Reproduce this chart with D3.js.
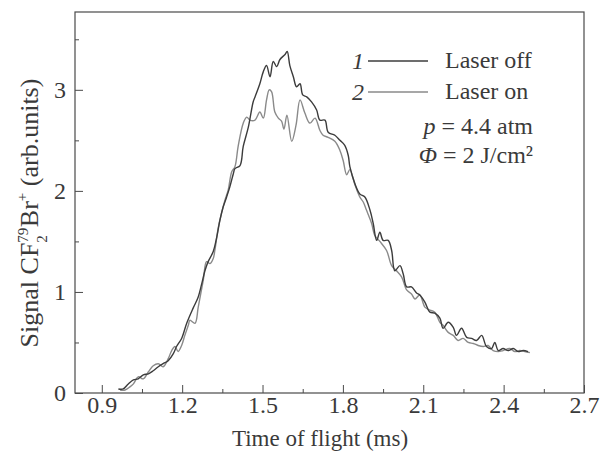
<!DOCTYPE html>
<html>
<head>
<meta charset="utf-8">
<script src="https://cdn.jsdelivr.net/npm/d3@7"></script>
<style>
    body { margin: 0; background: #fff; }
    svg { display: block; font-family: "Liberation Serif", "DejaVu Serif", serif; }
    text { fill: #3a3a3a; }
</style>
</head>
<body>
<svg></svg>
<script>

// curve 1 - laser off (time in ms, signal in arb. units)
const timeOff = [0.962, 0.980, 0.999, 1.018, 1.036, 1.055, 1.074, 1.092, 1.111, 1.129,
    1.148, 1.167, 1.179, 1.198, 1.217, 1.241, 1.260, 1.273, 1.285, 1.297,
    1.316, 1.329, 1.341, 1.353, 1.366, 1.378, 1.391, 1.397, 1.416, 1.428,
    1.447, 1.465, 1.472, 1.490, 1.503, 1.515, 1.528, 1.540, 1.553, 1.565,
    1.584, 1.592, 1.602, 1.615, 1.627, 1.640, 1.650, 1.665, 1.683, 1.702,
    1.714, 1.733, 1.745, 1.770, 1.789, 1.807, 1.820, 1.826, 1.845, 1.863,
    1.882, 1.901, 1.913, 1.926, 1.938, 1.950, 1.969, 1.982, 1.994, 2.013,
    2.025, 2.038, 2.056, 2.075, 2.087, 2.106, 2.125, 2.143, 2.162, 2.174,
    2.193, 2.212, 2.224, 2.243, 2.262, 2.280, 2.299, 2.318, 2.336, 2.355,
    2.367, 2.380, 2.398, 2.417, 2.436, 2.454, 2.473, 2.491]
const signalOff = [0.04, 0.04, 0.09, 0.13, 0.14, 0.18, 0.19, 0.22, 0.26, 0.29,
    0.32, 0.39, 0.46, 0.54, 0.69, 0.84, 0.95, 1.08, 1.21, 1.30,
    1.40, 1.54, 1.71, 1.84, 1.94, 2.04, 2.17, 2.22, 2.25, 2.44,
    2.63, 2.88, 2.93, 3.06, 3.18, 3.24, 3.13, 3.28, 3.23, 3.30,
    3.35, 3.38, 3.24, 3.13, 3.03, 3.06, 2.95, 2.93, 2.88, 2.80,
    2.70, 2.70, 2.58, 2.55, 2.50, 2.45, 2.35, 2.24, 2.07, 1.97,
    1.94, 1.81, 1.68, 1.51, 1.59, 1.51, 1.51, 1.41, 1.21, 1.26,
    1.18, 1.05, 1.05, 0.99, 0.97, 0.90, 0.80, 0.79, 0.74, 0.64,
    0.70, 0.65, 0.57, 0.64, 0.55, 0.54, 0.52, 0.57, 0.46, 0.44,
    0.50, 0.42, 0.44, 0.42, 0.44, 0.41, 0.42, 0.41]

// curve 2 - laser on
const timeOn = [0.968, 0.987, 1.005, 1.018, 1.036, 1.055, 1.074, 1.092, 1.111, 1.129,
    1.148, 1.161, 1.173, 1.185, 1.198, 1.210, 1.223, 1.229, 1.248, 1.260,
    1.279, 1.291, 1.304, 1.316, 1.322, 1.335, 1.347, 1.360, 1.372, 1.385,
    1.397, 1.409, 1.428, 1.441, 1.453, 1.472, 1.490, 1.503, 1.515, 1.525,
    1.534, 1.546, 1.559, 1.571, 1.580, 1.591, 1.609, 1.625, 1.640, 1.658,
    1.677, 1.696, 1.714, 1.726, 1.745, 1.770, 1.789, 1.801, 1.814, 1.826,
    1.845, 1.863, 1.876, 1.888, 1.907, 1.919, 1.938, 1.963, 1.982, 2.000,
    2.019, 2.038, 2.056, 2.069, 2.087, 2.106, 2.125, 2.143, 2.162, 2.174,
    2.193, 2.212, 2.230, 2.249, 2.268, 2.287, 2.305, 2.324, 2.342, 2.361,
    2.380, 2.398, 2.423, 2.442, 2.460, 2.479, 2.498]
const signalOn = [0.03, 0.03, 0.06, 0.09, 0.16, 0.14, 0.21, 0.27, 0.29, 0.26,
    0.34, 0.42, 0.46, 0.41, 0.47, 0.57, 0.67, 0.72, 0.69, 0.85,
    1.12, 1.30, 1.28, 1.33, 1.41, 1.64, 1.78, 1.91, 2.01, 2.19,
    2.24, 2.44, 2.67, 2.73, 2.70, 2.70, 2.78, 2.72, 2.90, 3.00,
    2.98, 2.78, 2.72, 2.69, 2.61, 2.75, 2.49, 2.65, 2.90, 2.77,
    2.67, 2.72, 2.60, 2.55, 2.53, 2.49, 2.40, 2.30, 2.16, 2.21,
    2.06, 1.94, 1.89, 1.81, 1.68, 1.56, 1.50, 1.41, 1.26, 1.21,
    1.15, 1.02, 0.98, 0.93, 0.97, 0.85, 0.82, 0.80, 0.70, 0.67,
    0.60, 0.57, 0.52, 0.54, 0.50, 0.49, 0.47, 0.46, 0.47, 0.42,
    0.41, 0.42, 0.44, 0.41, 0.42, 0.41, 0.40]

const xTicks = [0.9, 1.2, 1.5, 1.8, 2.1, 2.4, 2.7]
const xMinor = [1.05, 1.35, 1.65, 1.95, 2.25, 2.55]
const yTicks = [0, 1, 2, 3]
const yMinor = [0.5, 1.5, 2.5, 3.5]

const svg = d3.select("svg")
    .attr("width", 607)
    .attr("height", 461)

const plotLeft = 75, plotRight = 584, plotTop = 12, plotBottom = 393

const x = d3.scaleLinear().domain([0.8, 2.7]).range([plotLeft, plotRight])
const y = d3.scaleLinear().domain([0, 3.77]).range([plotBottom, plotTop])

const ink = "#4a4a4a"

// minor ticks first, then major ones with labels
svg.append("g")
    .attr("transform", `translate(0,${plotBottom})`)
    .call(d3.axisBottom(x).tickValues(xMinor).tickSizeInner(-4).tickSizeOuter(0).tickFormat(""))
    .call(g => g.select(".domain").remove())

svg.append("g")
    .attr("transform", `translate(${plotLeft},0)`)
    .call(d3.axisLeft(y).tickValues(yMinor).tickSizeInner(-4).tickSizeOuter(0).tickFormat(""))
    .call(g => g.select(".domain").remove())

svg.append("g")
    .attr("transform", `translate(0,${plotBottom})`)
    .call(d3.axisBottom(x).tickValues(xTicks).tickSizeInner(-8).tickSizeOuter(0)
        .tickPadding(3).tickFormat(d3.format(".1f")))
    .call(g => g.select(".domain").remove())

svg.append("g")
    .attr("transform", `translate(${plotLeft},0)`)
    .call(d3.axisLeft(y).tickValues(yTicks).tickSizeInner(-8).tickSizeOuter(0)
        .tickPadding(9).tickFormat(d3.format("d")))
    .call(g => g.select(".domain").remove())

svg.selectAll(".tick line").attr("stroke", ink)
svg.selectAll(".tick text")
    .attr("font-family", "Liberation Serif")
    .attr("font-size", 24)
    .attr("fill", "#3a3a3a")

// frame
svg.append("rect")
    .attr("x", plotLeft)
    .attr("y", plotTop)
    .attr("width", plotRight - plotLeft)
    .attr("height", plotBottom - plotTop)
    .attr("fill", "none")
    .attr("stroke", ink)
    .attr("stroke-width", 1.2)

// curves
const line = d3.line()
    .x(d => x(d[0]))
    .y(d => y(d[1]))
    .curve(d3.curveCatmullRom.alpha(0.5))

const offData = timeOff.map((t, i) => [t, signalOff[i]])
const onData = timeOn.map((t, i) => [t, signalOn[i]])

svg.append("path")
    .datum(onData)
    .attr("d", line)
    .attr("fill", "none")
    .attr("stroke", "#8a8a8a")
    .attr("stroke-width", 1.4)

svg.append("path")
    .datum(offData)
    .attr("d", line)
    .attr("fill", "none")
    .attr("stroke", "#3c3c3c")
    .attr("stroke-width", 1.4)

// axis titles
svg.append("text")
    .attr("x", 320)
    .attr("y", 446)
    .attr("text-anchor", "middle")
    .attr("font-size", 23)
    .text("Time of flight (ms)")

const yTitle = svg.append("text")
    .attr("transform", "translate(38,213) rotate(-90)")
    .attr("text-anchor", "middle")
    .attr("font-size", 26)

yTitle.append("tspan").text("Signal CF")
yTitle.append("tspan").attr("font-size", 15).attr("dy", -10).text("79")
yTitle.append("tspan").attr("font-size", 15).attr("dx", -15).attr("dy", 19).text("2")
yTitle.append("tspan").attr("dx", 8).attr("dy", -9).text("Br")
yTitle.append("tspan").attr("font-size", 15).attr("dy", -11).text("+")
yTitle.append("tspan").attr("dy", 11).text(" (arb.units)")

// legend
const legend = [
    { num: "1", label: "Laser off", color: "#3c3c3c", yPos: 61 },
    { num: "2", label: "Laser on", color: "#8a8a8a", yPos: 92 }
]

const legendRows = svg.selectAll("g.legend")
    .data(legend)
    .enter()
    .append("g")
    .attr("class", "legend")

legendRows.append("text")
    .attr("x", 358)
    .attr("y", d => d.yPos + 8)
    .attr("text-anchor", "middle")
    .attr("font-size", 24)
    .attr("font-style", "italic")
    .text(d => d.num)

legendRows.append("line")
    .attr("x1", 368)
    .attr("x2", 428)
    .attr("y1", d => d.yPos)
    .attr("y2", d => d.yPos)
    .attr("stroke", d => d.color)
    .attr("stroke-width", 1.4)

legendRows.append("text")
    .attr("x", 445)
    .attr("y", d => d.yPos + 7)
    .attr("font-size", 24)
    .text(d => d.label)

const pText = svg.append("text")
    .attr("x", 533)
    .attr("y", 134)
    .attr("text-anchor", "end")
    .attr("font-size", 24)
pText.append("tspan").attr("font-style", "italic").text("p")
pText.append("tspan").text(" = 4.4 atm")

const fText = svg.append("text")
    .attr("x", 533)
    .attr("y", 163)
    .attr("text-anchor", "end")
    .attr("font-size", 24)
fText.append("tspan").attr("font-style", "italic").text("Φ")
fText.append("tspan").text(" = 2 J/cm²")

</script>
</body>
</html>
